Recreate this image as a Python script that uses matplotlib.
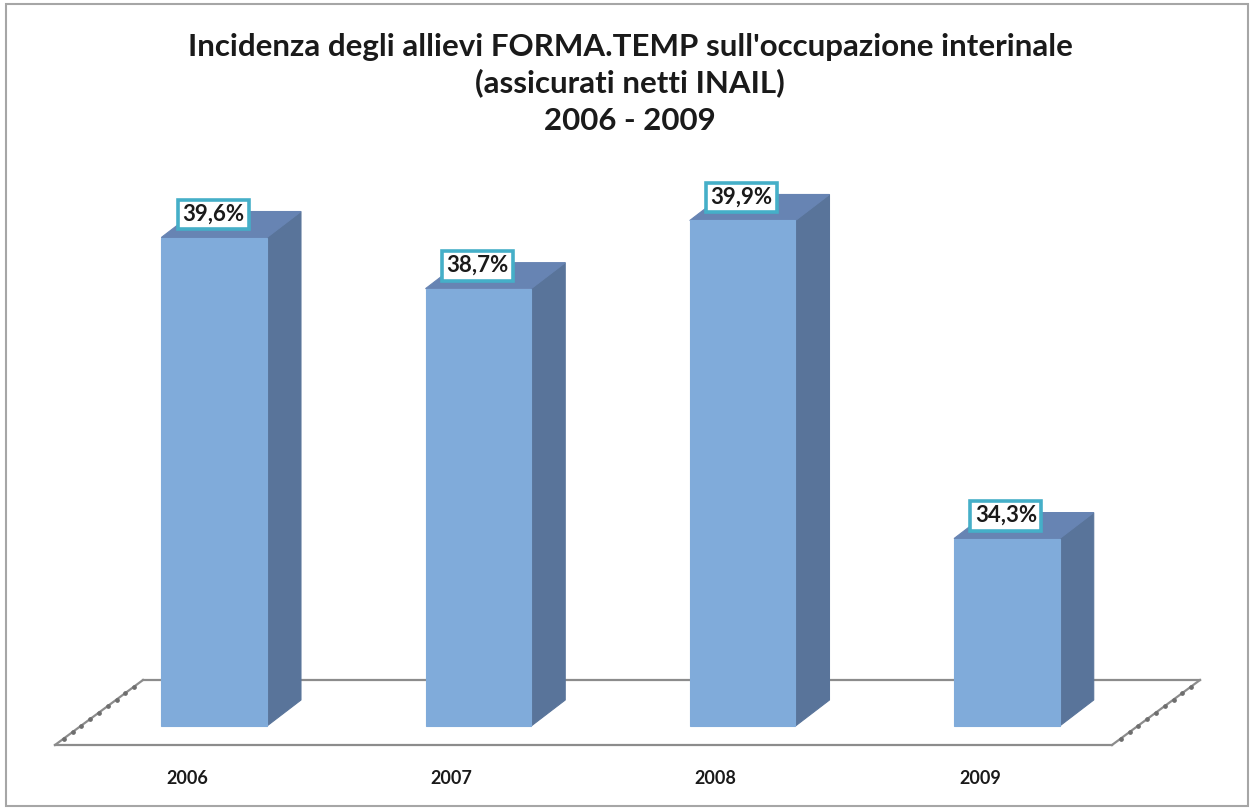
import matplotlib
matplotlib.use("Agg")
import matplotlib.pyplot as plt
from matplotlib.patches import Polygon, Rectangle

years = ['2006', '2007', '2008', '2009']
values = [39.6, 38.7, 39.9, 34.3]
value_labels = ['39,6%', '38,7%', '39,9%', '34,3%']
title_lines = ["Incidenza degli allievi FORMA.TEMP sull'occupazione interinale",
               "(assicurati netti INAIL)",
               "2006 - 2009"]

W, H = 1250, 810
FONT = 'Lato'
fig = plt.figure(figsize=(W / 100, H / 100), dpi=100)
fig.patch.set_facecolor('white')
ax = fig.add_axes([55 / W, (H - 745) / H, (1112 - 55) / W, (745 - 233.8) / H])
ymin, ymax = 31, 40
ax.set_xlim(-0.5, 3.5)
ax.set_ylim(ymin, ymax)
ax.axis('off')

inv = fig.transFigure.inverted()


def P(x, y, off=(0, 0)):
    d = ax.transData.transform((x, y))
    return tuple(inv.transform((d[0] + off[0], d[1] + off[1])))


DEPTH = (88, 65)
F = (27, 19)
B = (61, 45)

# floor
floor_col = '#8C8C8C'
fl = P(-0.5, ymin); fr = P(3.5, ymin)
bl = P(-0.5, ymin, DEPTH); br = P(3.5, ymin, DEPTH)
for a, b, mk in [(fl, fr, None), (bl, br, None), (fl, bl, 'o'), (fr, br, 'o')]:
    line = plt.Line2D([a[0], b[0]], [a[1], b[1]], transform=fig.transFigure,
                      color=floor_col, lw=1.6, zorder=1)
    fig.add_artist(line)
    if mk:
        n = 10
        xs = [a[0] + (b[0] - a[0]) * k / n for k in range(1, n)]
        ys = [a[1] + (b[1] - a[1]) * k / n for k in range(1, n)]
        fig.add_artist(plt.Line2D(xs, ys, transform=fig.transFigure, ls='none',
                                  marker='o', ms=2.4, color='#6E6E6E', zorder=1))

front_c = '#80ABDA'
side_c = '#59749A'
top_c = '#6784B3'
hw = 0.2
for i, v in enumerate(values):
    x0, x1 = i - hw, i + hw
    front = [P(x0, ymin, F), P(x1, ymin, F), P(x1, v, F), P(x0, v, F)]
    side = [P(x1, ymin, F), P(x1, ymin, B), P(x1, v, B), P(x1, v, F)]
    top = [P(x0, v, F), P(x1, v, F), P(x1, v, B), P(x0, v, B)]
    for poly, c in [(side, side_c), (top, top_c), (front, front_c)]:
        fig.add_artist(Polygon(poly, closed=True, transform=fig.transFigure,
                               facecolor=c, edgecolor=c, lw=0.8, zorder=3))
    lx, ly = P(i, v, (F[0] - 1, F[1] + 23))
    fig.text(lx, ly, value_labels[i], ha='center', va='center', fontsize=16,
             fontweight='bold', family=FONT, color='#1A1A1A', zorder=5,
             bbox=dict(boxstyle='square,pad=0.2', facecolor='white',
                       edgecolor='#45AFC8', lw=2.6))
    cx, cy = P(i, ymin)
    fig.text(cx, (H - 779) / H, years[i], ha='center', va='center', fontsize=13,
             fontweight='bold', family=FONT, color='#1A1A1A')

for txt, ypx in zip(title_lines, [47, 83, 121]):
    fig.text(630 / W, (H - ypx) / H, txt, ha='center', va='center', fontsize=22.5,
             fontweight='bold', family=FONT, color='#1A1A1A')

fig.add_artist(Rectangle((6 / W, 4 / H), (1248 - 6) / W, (806 - 4) / H,
                         transform=fig.transFigure, fill=False,
                         edgecolor='#A6A6A6', lw=1.5))

fig.savefig('out.png', dpi=100)
